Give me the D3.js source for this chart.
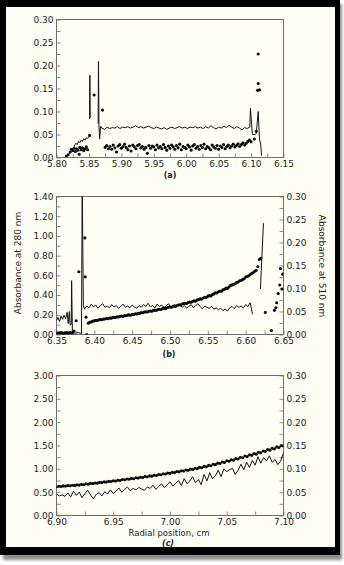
<!DOCTYPE html>
<html>
<head>
<meta charset="utf-8">
<script src="https://cdn.jsdelivr.net/npm/d3@7"></script>
<style>
  html, body { margin: 0; padding: 0; background: #fff; }
  svg { display: block; }
  text { font-family: "DejaVu Sans", Verdana, sans-serif; fill: #222; }
  .ticks line { stroke: #8c8c8c; stroke-width: 1; }
  .ticks .domain, .labels .domain, .labels line { display: none; }
  .labels text { font-size: 9px; fill: #222; }
</style>
</head>
<body>
<svg id="fig" width="344" height="565"></svg>
<script>
// ---------- (a) 5.80–6.15 cm, single absorbance axis ----------
const aXLabels = [5.80, 5.85, 5.90, 5.95, 6.00, 6.05, 6.10, 6.15];
const aYLabels = [0.00, 0.05, 0.10, 0.15, 0.20, 0.25, 0.30];

// solid trace pieces: [radius, absorbance]
const aLineRise = [[5.820,0.008],[5.823,0.014],[5.826,0.019],[5.828,0.027],[5.830,0.031],[5.832,0.028],
  [5.834,0.035],[5.836,0.032],[5.838,0.038],[5.840,0.035],[5.842,0.041],[5.844,0.038],[5.846,0.043],
  [5.848,0.041],[5.850,0.046]];
const aLineSpike1 = [[5.8510,0.084],[5.8515,0.179],[5.8520,0.086]];
const aLineSpike2 = [[5.8642,0.074],[5.8647,0.209],[5.8655,0.072],[5.8665,0.040],[5.8680,0.068]];
const aPlateauStart = 5.870, aPlateauStep = 0.004;
const aPlateau = [0.064,0.061,0.066,0.063,0.065,0.064,0.067,0.063,0.066,0.065,
  0.067,0.064,0.066,0.069,0.065,0.067,0.064,0.066,0.068,0.065,
  0.063,0.066,0.064,0.062,0.065,0.061,0.064,0.066,0.063,0.065,
  0.067,0.064,0.066,0.063,0.066,0.065,0.067,0.064,0.066,0.063,
  0.067,0.064,0.069,0.065,0.062,0.066,0.064,0.068,0.065,0.070,
  0.066,0.063,0.067,0.064,0.060,0.065,0.063,0.066];
const aLineEnd = [[6.099,0.107],[6.102,0.050],[6.106,0.050],[6.108,0.052],[6.111,0.100],[6.113,0.040],
  [6.115,0.028],[6.116,0.004]];

// scanned points
const aDotsEarly = [[5.815,0.003],[5.818,0.006],[5.821,0.012],[5.823,0.018],[5.825,0.015],[5.827,0.020],
  [5.829,0.013],[5.831,0.019],[5.833,0.016],[5.835,0.007],[5.836,0.022],[5.838,0.017],[5.840,0.021],
  [5.842,0.015],[5.844,0.019],[5.846,0.023],[5.848,0.017],[5.851,0.048],[5.858,0.136],[5.871,0.103]];
const aBandStart = 5.875, aBandStep = 0.0025;
const aBand = [0.022,0.026,0.019,0.024,0.018,0.027,0.021,0.012,0.025,0.028,
  0.020,0.024,0.029,0.022,0.017,0.025,0.014,0.027,0.023,0.019,
  0.026,0.028,0.021,0.024,0.018,0.022,0.009,0.026,0.020,0.025,
  0.023,0.017,0.027,0.021,0.024,0.019,0.028,0.022,0.016,0.025,
  0.020,0.027,0.023,0.018,0.026,0.021,0.029,0.017,0.024,0.022,
  0.019,0.027,0.023,0.016,0.025,0.028,0.020,0.024,0.018,0.026,
  0.022,0.029,0.019,0.024,0.021,0.017,0.027,0.023,0.020,0.026,
  0.018,0.025,0.022,0.028,0.019,0.024,0.027,0.021,0.025,0.029,
  0.023,0.026,0.030,0.024,0.028,0.032,0.027,0.031,0.035,0.038,
  0.034];
const aDotsLate = [[6.105,0.040],[6.108,0.057],[6.110,0.146],[6.113,0.147],[6.111,0.161],[6.111,0.225]];

// ---------- (b) 6.35–6.65 cm ----------
const bXLabels = [6.35, 6.40, 6.45, 6.50, 6.55, 6.60, 6.65];
const bY280Labels = [0.00, 0.20, 0.40, 0.60, 0.80, 1.00, 1.20, 1.40];
const bY510Labels = [0.00, 0.05, 0.10, 0.15, 0.20, 0.25, 0.30];

// solid trace, 510 nm
const bLinePre = [[6.350,0.030],[6.352,0.037],[6.354,0.028],[6.356,0.040],[6.358,0.033],[6.360,0.042],
  [6.362,0.034],[6.364,0.048],[6.3655,0.024],[6.367,0.050],[6.368,0.021],[6.3695,0.022],[6.3700,0.117],
  [6.3710,0.004],[6.375,0.003],[6.379,0.004],[6.383,0.002],[6.3840,0.320],[6.3855,0.063]];
const bPlateauStart = 6.387, bPlateauStep = 0.003;
const bPlateau = [0.055,0.062,0.058,0.066,0.060,0.064,0.057,0.063,0.067,0.059,
  0.062,0.058,0.065,0.060,0.063,0.057,0.061,0.066,0.059,0.062,
  0.058,0.064,0.060,0.057,0.063,0.059,0.065,0.061,0.068,0.060,
  0.063,0.058,0.066,0.061,0.064,0.059,0.062,0.067,0.060,0.064,
  0.058,0.062,0.066,0.059,0.063,0.057,0.061,0.065,0.058,0.063,
  0.067,0.060,0.056,0.062,0.059,0.057,0.061,0.055,0.058,0.054,
  0.057,0.052,0.055,0.051,0.058,0.061,0.056,0.063,0.059,0.062,
  0.058,0.065,0.061,0.069,0.044];
const bLineSpike = [[6.6195,0.099],[6.6235,0.242]];

// scanned points, 280 nm
const bDotsBaseStart = 6.350, bDotsBaseStep = 0.0015;
const bDotsBase = [0.015,0.010,0.018,0.012,0.020,0.014,0.009,0.017,0.013,0.019,0.011,0.016,0.021,0.013,0.018];
const bDotsPeak = [[6.373,0.035],[6.376,0.140],[6.3795,0.636],[6.3875,0.980],[6.388,0.585],[6.389,0.176],[6.390,0.000]];
const bBandStart = 6.392, bBandStep = 0.002;
const bBand = [0.115,0.124,0.128,0.137,0.138,0.145,0.143,0.149,0.151,0.150,
  0.157,0.158,0.163,0.160,0.168,0.166,0.171,0.175,0.172,0.180,
  0.178,0.184,0.187,0.183,0.193,0.190,0.197,0.199,0.196,0.205,
  0.203,0.210,0.208,0.216,0.214,0.222,0.220,0.227,0.231,0.228,
  0.236,0.239,0.236,0.245,0.247,0.244,0.254,0.256,0.253,0.263,
  0.266,0.262,0.272,0.276,0.279,0.277,0.287,0.290,0.288,0.297,
  0.302,0.300,0.309,0.314,0.317,0.315,0.325,0.329,0.327,0.338,
  0.341,0.339,0.351,0.355,0.361,0.359,0.371,0.378,0.376,0.389,
  0.394,0.391,0.405,0.412,0.423,0.421,0.434,0.441,0.439,0.453,
  0.459,0.470,0.468,0.482,0.498,0.503,0.506,0.515,0.528,0.532,
  0.545,0.547,0.559,0.566,0.583,0.589,0.596,0.609,0.620,0.628,
  0.641,0.652,0.690,0.761,0.772];
const bDotsLate = [[6.626,0.224],[6.634,0.040],[6.638,0.245],[6.640,0.272],[6.641,0.322],[6.643,0.415],
  [6.645,0.502],[6.646,0.668],[6.648,0.462],[6.649,0.612]];

// ---------- (c) 6.90–7.10 cm ----------
const cXLabels = [6.90, 6.95, 7.00, 7.05, 7.10];
const cY280Labels = [0.00, 0.50, 1.00, 1.50, 2.00, 2.50, 3.00];
const cY510Labels = [0.00, 0.05, 0.10, 0.15, 0.20, 0.25, 0.30];

// solid trace, 510 nm
const cLineStart = 6.900, cLineStep = 0.0025;
const cLine = [0.046,0.042,0.044,0.041,0.048,0.040,0.052,0.043,0.050,0.038,
  0.047,0.054,0.044,0.036,0.045,0.049,0.042,0.051,0.046,0.055,
  0.047,0.052,0.059,0.050,0.056,0.061,0.053,0.058,0.055,0.060,
  0.057,0.054,0.061,0.058,0.065,0.056,0.062,0.068,0.060,0.066,
  0.072,0.063,0.069,0.075,0.064,0.079,0.068,0.074,0.083,0.070,
  0.077,0.066,0.088,0.074,0.092,0.079,0.085,0.097,0.083,0.100,
  0.094,0.098,0.101,0.088,0.097,0.110,0.098,0.114,0.103,0.118,
  0.108,0.126,0.112,0.124,0.117,0.128,0.114,0.120,0.109,0.117,
  0.134];

// scanned points, 280 nm
const cDotsStart = 6.900, cDotsStep = 0.002;
const cDots = [0.615,0.628,0.622,0.634,0.630,0.641,0.637,0.648,0.645,0.656,
  0.651,0.668,0.660,0.679,0.672,0.688,0.684,0.697,0.693,0.709,
  0.705,0.721,0.716,0.732,0.727,0.744,0.739,0.756,0.751,0.769,
  0.765,0.781,0.776,0.795,0.789,0.808,0.801,0.820,0.814,0.835,
  0.829,0.849,0.843,0.864,0.858,0.879,0.872,0.894,0.888,0.910,
  0.903,0.926,0.919,0.942,0.935,0.958,0.951,0.976,0.968,0.994,
  0.986,1.012,1.004,1.031,1.023,1.053,1.044,1.074,1.066,1.098,
  1.090,1.122,1.113,1.146,1.137,1.172,1.161,1.196,1.186,1.221,
  1.211,1.248,1.237,1.274,1.263,1.301,1.289,1.327,1.315,1.354,
  1.343,1.383,1.371,1.412,1.400,1.440,1.428,1.470,1.457,1.501,
  1.490];

// ---------- drawing ----------
const svg = d3.select("#fig");
const fmt = d3.format(".2f");
const X0 = 56.5, X1 = 283.5;

const sampled = (start, step, ys) => ys.map((y, i) => [start + i * step, y]);

// drop shadow and page
const defs = svg.append("defs");
defs.append("filter").attr("id", "shadow").attr("x", "-5%").attr("y", "-5%").attr("width", "110%").attr("height", "110%")
  .append("feGaussianBlur").attr("stdDeviation", 1.6);
svg.append("rect").attr("x", 3).attr("y", 4).attr("width", 339).attr("height", 556)
  .attr("fill", "#8d8d8d").attr("filter", "url(#shadow)");
svg.append("rect").attr("x", 0).attr("y", 0).attr("width", 340).attr("height", 555).attr("fill", "#fffef5");

let clipId = 0;
function panel(p) {
  const x = d3.scaleLinear().domain(p.xDomain).range([X0, X1]);
  const yL = d3.scaleLinear().domain(p.yLeftDomain).range([p.bottom, p.top]);
  const yR = p.yRightDomain ? d3.scaleLinear().domain(p.yRightDomain).range([p.bottom, p.top]) : null;
  const g = svg.append("g");

  // inward tick marks
  g.append("g").attr("class", "ticks").attr("transform", `translate(0,${p.bottom})`)
    .call(d3.axisBottom(x).tickValues(p.xMinor).tickSize(-4).tickFormat(""));
  g.append("g").attr("class", "ticks").attr("transform", `translate(${X0},0)`)
    .call(d3.axisLeft(yL).tickValues(p.yLeftMinor).tickSize(-4).tickFormat(""));
  if (yR) {
    g.append("g").attr("class", "ticks").attr("transform", `translate(${X1},0)`)
      .call(d3.axisRight(yR).tickValues(p.yRightMinor).tickSize(-4).tickFormat(""));
  }
  // tick labels
  g.append("g").attr("class", "labels").attr("transform", `translate(0,${p.bottom})`)
    .call(d3.axisBottom(x).tickValues(p.xLabels).tickSize(0).tickPadding(3).tickFormat(fmt));
  g.append("g").attr("class", "labels").attr("transform", `translate(${X0},0)`)
    .call(d3.axisLeft(yL).tickValues(p.yLeftLabels).tickSize(0).tickPadding(3).tickFormat(fmt));
  if (yR) {
    g.append("g").attr("class", "labels").attr("transform", `translate(${X1},0)`)
      .call(d3.axisRight(yR).tickValues(p.yRightLabels).tickSize(0).tickPadding(3).tickFormat(fmt));
  }
  // plot box
  g.append("rect").attr("x", X0).attr("y", p.top).attr("width", X1 - X0).attr("height", p.bottom - p.top)
    .attr("fill", "none").attr("stroke", "#6e6e6e").attr("stroke-width", 1);

  const id = "clip" + (clipId++);
  defs.append("clipPath").attr("id", id).append("rect")
    .attr("x", X0).attr("y", p.top).attr("width", X1 - X0).attr("height", p.bottom - p.top);
  const plot = g.append("g").attr("clip-path", `url(#${id})`);
  return { x, yL, yR, plot };
}

function trace(pn, y, pieces) {
  const pts = [];
  pieces.forEach((piece, i) => { if (i) pts.push(null); pts.push(...piece); });
  const line = d3.line().defined(d => d !== null).x(d => pn.x(d[0])).y(d => y(d[1]));
  pn.plot.append("path").attr("d", line(pts))
    .attr("fill", "none").attr("stroke", "#111").attr("stroke-width", 1).attr("stroke-linejoin", "round");
}
function dots(pn, y, pts) {
  pn.plot.append("g").selectAll("circle").data(pts).join("circle")
    .attr("cx", d => pn.x(d[0])).attr("cy", d => y(d[1])).attr("r", 1.55).attr("fill", "#0a0a0a");
}

// (a)
const pa = panel({
  xDomain: [5.80, 6.15], yLeftDomain: [0, 0.30], top: 19.5, bottom: 157.5,
  xLabels: aXLabels, xMinor: d3.range(15).map(i => 5.80 + i * 0.025),
  yLeftLabels: aYLabels, yLeftMinor: d3.range(13).map(i => i * 0.025)
});
trace(pa, pa.yL, [aLineRise, aLineSpike1, [...aLineSpike2, ...sampled(aPlateauStart, aPlateauStep, aPlateau), ...aLineEnd]]);
dots(pa, pa.yL, [...aDotsEarly, ...sampled(aBandStart, aBandStep, aBand), ...aDotsLate]);

// (b)
const pb = panel({
  xDomain: [6.35, 6.65], yLeftDomain: [0, 1.40], yRightDomain: [0, 0.30], top: 196.5, bottom: 334.5,
  xLabels: bXLabels, xMinor: d3.range(13).map(i => 6.35 + i * 0.025),
  yLeftLabels: bY280Labels, yLeftMinor: d3.range(15).map(i => i * 0.10),
  yRightLabels: bY510Labels, yRightMinor: d3.range(13).map(i => i * 0.025)
});
trace(pb, pb.yR, [[...bLinePre, ...sampled(bPlateauStart, bPlateauStep, bPlateau)], bLineSpike]);
dots(pb, pb.yL, [...sampled(bDotsBaseStart, bDotsBaseStep, bDotsBase), ...bDotsPeak,
  ...sampled(bBandStart, bBandStep, bBand), ...bDotsLate]);

// (c)
const pc = panel({
  xDomain: [6.90, 7.10], yLeftDomain: [0, 3.00], yRightDomain: [0, 0.30], top: 375.5, bottom: 515.5,
  xLabels: cXLabels, xMinor: d3.range(9).map(i => 6.90 + i * 0.025),
  yLeftLabels: cY280Labels, yLeftMinor: d3.range(13).map(i => i * 0.25),
  yRightLabels: cY510Labels, yRightMinor: d3.range(13).map(i => i * 0.025)
});
trace(pc, pc.yR, [sampled(cLineStart, cLineStep, cLine)]);
dots(pc, pc.yL, sampled(cDotsStart, cDotsStep, cDots));

// titles and panel letters
svg.append("text").attr("transform", "translate(21,263) rotate(-90)").attr("text-anchor", "middle")
  .style("font-size", "9px").text("Absorbance at 280 nm");
svg.append("text").attr("transform", "translate(319,266) rotate(90)").attr("text-anchor", "middle")
  .style("font-size", "9px").text("Absorbance at 510 nm");
svg.append("text").attr("x", 169).attr("y", 536).attr("text-anchor", "middle")
  .style("font-size", "8.5px").text("Radial position, cm");
svg.append("text").attr("x", 170).attr("y", 178).attr("text-anchor", "middle")
  .style("font-size", "8px").style("font-weight", "bold").text("(a)");
svg.append("text").attr("x", 169).attr("y", 357).attr("text-anchor", "middle")
  .style("font-size", "8px").style("font-weight", "bold").text("(b)");
svg.append("text").attr("x", 168).attr("y", 545.5).attr("text-anchor", "middle")
  .style("font-size", "8px").style("font-weight", "bold").style("font-style", "italic").text("(c)");

// black mount around the figure
svg.append("path").attr("fill", "#000").attr("fill-rule", "evenodd")
  .attr("d", "M0,0H340V555H0Z M6,7V547H335V7Z");
</script>
</body>
</html>
